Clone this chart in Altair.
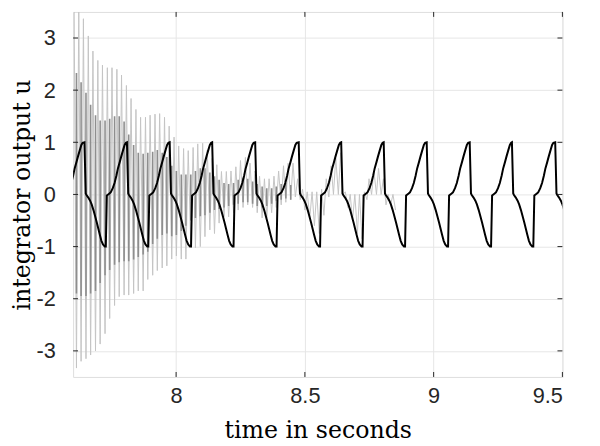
import altair as alt
import pandas as pd

# ---------------- data ----------------
x_ticks = [8, 8.5, 9, 9.5]
y_ticks = [-3, -2, -1, 0, 1, 2, 3]

# times of the +1 peaks of the black (reference) trace
peak_times = [7.476, 7.644, 7.809, 7.975, 8.140, 8.307, 8.476, 8.641,
              8.806, 8.973, 9.140, 9.304, 9.472]
# one period of the black trace, measured from a peak (offset s, value)
shape_dt = [0.000, 0.005, 0.008, 0.015, 0.022, 0.028, 0.035, 0.041, 0.048,
            0.054, 0.060, 0.066, 0.072, 0.079, 0.083, 0.087, 0.092, 0.097,
            0.102, 0.110, 0.117, 0.124, 0.130, 0.137, 0.143, 0.150, 0.156,
            0.161]
shape_u = [1.00, 0.02, -0.01, -0.06, -0.12, -0.19, -0.30, -0.41, -0.54,
           -0.66, -0.78, -0.89, -0.96, -1.00, -1.00, -0.02, 0.00, 0.02,
           0.04, 0.12, 0.22, 0.36, 0.50, 0.62, 0.73, 0.85, 0.95, 0.99]

# grey trace: upper tips (t_up, u_up) and lower tips (t_dn, u_dn)
t_up = [7.604, 7.622, 7.640, 7.659, 7.677, 7.696, 7.714, 7.733, 7.751, 7.770,
        7.788, 7.807, 7.825, 7.844, 7.862, 7.881, 7.899, 7.918, 7.936, 7.955,
        7.973, 7.992, 8.010, 8.029, 8.047, 8.066, 8.084, 8.103, 8.121, 8.140,
        8.158, 8.176, 8.195, 8.213, 8.232, 8.250, 8.269, 8.287, 8.306, 8.324,
        8.343, 8.361, 8.380, 8.398, 8.417, 8.435, 8.454, 8.472, 8.491, 8.509,
        8.528, 8.546, 8.565, 8.583, 8.602, 8.620, 8.639, 8.657, 8.676, 8.694,
        8.712, 8.731, 8.749, 8.768, 8.786, 8.805, 8.823, 8.842]
u_up = [3.60, 3.60, 3.37, 3.04, 2.75, 2.57, 2.48, 2.43, 2.43, 2.40,
        2.29, 2.09, 1.84, 1.63, 1.48, 1.48, 1.52, 1.54, 1.55, 1.48,
        1.31, 1.10, 0.93, 0.88, 0.84, 0.90, 0.97, 0.98, 0.85, 0.69,
        0.57, 0.44, 0.44, 0.45, 0.53, 0.65, 0.71, 0.60, 0.45, 0.35,
        0.30, 0.30, 0.35, 0.45, 0.55, 0.60, 0.60, 0.30, 0.10, 0.05,
        0.05, 0.05, 0.10, 0.30, 0.55, 0.70, 0.80, 0.05, 0.00, 0.00,
        0.00, 0.05, 0.30, 0.45, 0.50, 0.30, 0.00, 0.00]
t_dn = [7.613, 7.631, 7.650, 7.668, 7.687, 7.705, 7.724, 7.742, 7.761, 7.779,
        7.798, 7.816, 7.835, 7.853, 7.872, 7.890, 7.909, 7.927, 7.946, 7.964,
        7.983, 8.001, 8.020, 8.038, 8.057, 8.075, 8.094, 8.112, 8.131, 8.149,
        8.167, 8.186, 8.204, 8.223, 8.241, 8.260, 8.278, 8.297, 8.315, 8.334,
        8.352, 8.371, 8.389, 8.408, 8.426, 8.445, 8.463, 8.482, 8.500, 8.519,
        8.537, 8.556, 8.574, 8.593, 8.611, 8.630, 8.648, 8.667, 8.685, 8.704,
        8.722, 8.741, 8.759, 8.778, 8.796, 8.815, 8.833, 8.852]
u_dn = [-3.33, -3.20, -3.15, -3.08, -3.00, -2.87, -2.67, -2.38, -2.13, -1.96,
        -1.93, -1.93, -1.90, -1.85, -1.85, -1.63, -1.55, -1.46, -1.41, -1.37,
        -1.24, -1.18, -1.24, -1.24, -1.00, -1.02, -1.00, -0.81, -0.68, -0.75,
        -0.55, -0.43, -0.43, -0.35, -0.30, -0.25, -0.20, -0.25, -0.35, -0.45,
        -0.45, -0.35, -0.25, -0.20, -0.15, -0.10, -0.05, -0.10, -0.30, -0.45,
        -0.60, -0.75, -0.40, -0.05, 0.00, 0.00, 0.00, -0.25, -0.50, -0.75,
        -0.85, -0.10, 0.00, 0.00, 0.00, -0.20, -0.20, -0.30]
# darker grey bars (at t_dn), upper and lower ends
dark_hi = [2.33, 2.15, 1.95, 1.72, 1.52, 1.42, 1.42, 1.45, 1.50, 1.50,
           1.40, 1.15, 0.95, 0.80, 0.78, 0.80, 0.82, 0.85, 0.80, 0.72,
           0.55, 0.45, 0.38, 0.38, 0.38, 0.45, 0.50, 0.50, 0.42, 0.35,
           0.28, 0.22, 0.20, 0.22, 0.28, 0.32, 0.30, 0.25, 0.20, 0.15,
           0.12, 0.12, 0.15, 0.20, 0.22, 0.18]
dark_lo = [-1.90, -1.95, -1.95, -1.90, -1.85, -1.70, -1.55, -1.45, -1.35, -1.30,
           -1.28, -1.28, -1.25, -1.20, -1.15, -1.10, -0.95, -0.85, -0.78, -0.75,
           -0.80, -0.78, -0.70, -0.60, -0.50, -0.45, -0.42, -0.40, -0.35, -0.30,
           -0.28, -0.25, -0.22, -0.20, -0.18, -0.15, -0.15, -0.18, -0.22, -0.25,
           -0.22, -0.18, -0.12, -0.10, -0.08, -0.10]

# ---------------- tables ----------------
black_rows = []
for p in peak_times:
    for dt, u in zip(shape_dt, shape_u):
        black_rows.append({"t": p + dt, "u": u})
black = pd.DataFrame(black_rows).sort_values("t").reset_index(drop=True)
black["i"] = range(len(black))

grey_rows = []
for k in range(len(t_up)):
    grey_rows.append({"t": t_up[k], "u": u_up[k]})
    grey_rows.append({"t": t_dn[k], "u": u_dn[k]})
grey = pd.DataFrame(grey_rows)
grey["i"] = range(len(grey))

dark = pd.DataFrame({"t": t_dn[:len(dark_hi)], "lo": dark_lo, "hi": dark_hi})
xt = pd.DataFrame({"t": x_ticks})
yt = pd.DataFrame({"u": y_ticks})

# ---------------- chart ----------------
W, H = 496, 370
AX = "#262626"
xscale = alt.Scale(domain=[7.6, 9.5], nice=False, zero=False)
yscale = alt.Scale(domain=[-3.5, 3.5], nice=False, zero=False)

xaxis = alt.Axis(values=x_ticks, labelExpr="'' + datum.value", title="time in seconds",
                 grid=True, gridColor="#e6e6e6", gridWidth=1, ticks=False, tickSize=0,
                 domain=False, labelFont="Liberation Sans", labelFontSize=22,
                 labelColor=AX, labelPadding=9, titleFont="DejaVu Serif",
                 titleFontSize=24, titleFontWeight="normal", titleColor="black",
                 titlePadding=12)
yaxis = alt.Axis(values=y_ticks, labelExpr="'' + datum.value", title="integrator output u",
                 grid=True, gridColor="#e6e6e6", gridWidth=1, ticks=False, tickSize=0,
                 domain=False, labelFont="Liberation Sans", labelFontSize=22,
                 labelColor=AX, labelPadding=18, titleFont="DejaVu Serif",
                 titleFontSize=24, titleFontWeight="normal", titleColor="black",
                 titlePadding=2)

X = lambda: alt.X("t:Q", scale=xscale, axis=xaxis)
Y = lambda f="u": alt.Y(f + ":Q", scale=yscale, axis=yaxis)

light = alt.Chart(grey).mark_line(color="#c4c4c4", strokeWidth=1, clip=True).encode(
    x=X(), y=Y(), order="i:Q")
darkbars = alt.Chart(dark).mark_rule(color="#8e8e8e", strokeWidth=1.6, clip=True).encode(
    x=X(), y=Y("lo"), y2="hi:Q")
blk = alt.Chart(black).mark_line(color="black", strokeWidth=2, clip=True).encode(
    x=X(), y=Y(), order="i:Q")

tick_b = alt.Chart(xt).mark_rule(color=AX, strokeWidth=1).encode(
    x=X(), y=alt.value(H), y2=alt.value(H - 5))
tick_t = alt.Chart(xt).mark_rule(color=AX, strokeWidth=1).encode(
    x=X(), y=alt.value(0), y2=alt.value(5))
tick_l = alt.Chart(yt).mark_rule(color=AX, strokeWidth=1).encode(
    y=Y(), x=alt.value(0), x2=alt.value(5))
tick_r = alt.Chart(yt).mark_rule(color=AX, strokeWidth=1).encode(
    y=Y(), x=alt.value(W), x2=alt.value(W - 5))

chart = alt.layer(light, darkbars, blk, tick_b, tick_t, tick_l, tick_r).properties(
    width=W, height=H,
    autosize=alt.AutoSizeParams(type="none"),
    padding={"left": 66, "top": 1, "right": 30, "bottom": 66},
).configure_view(stroke=AX, strokeWidth=1).configure(background="white")

chart.save("out.html", embed_options={"renderer": "svg", "actions": False})
